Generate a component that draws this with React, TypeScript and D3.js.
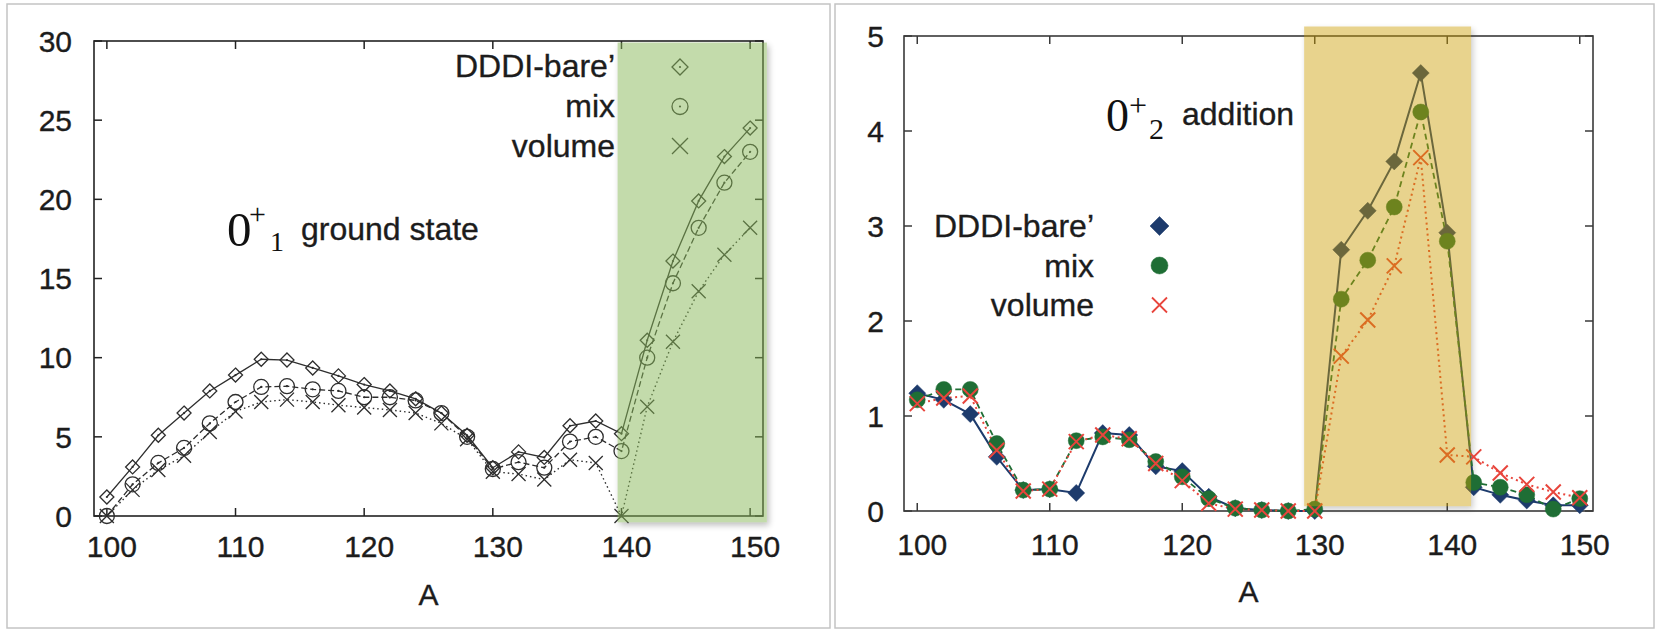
import React from "react";
import * as d3 from "d3";

const massA = [100,102,104,106,108,110,112,114,116,118,120,122,124,126,128,130,132,134,136,138,140,142,144,146,148,150];

// left panel: 0+1 ground state
const gsDDDI = [1.2,3.1,5.1,6.5,7.9,8.9,9.9,9.85,9.35,8.85,8.3,7.9,7.4,6.5,5.1,3.05,4.05,3.7,5.7,6.0,5.2,11.1,16.1,19.9,22.7,24.5];
const gsMix = [0,2.0,3.35,4.3,5.85,7.2,8.15,8.2,8.0,7.9,7.5,7.5,7.3,6.5,5.0,2.97,3.4,3.05,4.7,5.0,4.1,10.0,14.7,18.2,21.05,23.0];
const gsVolume = [0,1.65,2.9,3.8,5.3,6.6,7.2,7.35,7.2,7.0,6.85,6.7,6.5,5.85,4.85,2.8,2.65,2.3,3.55,3.35,0,6.9,11.0,14.2,16.5,18.2];

// right panel: 0+2 addition
const adDDDI = [1.24,1.17,1.02,0.57,0.22,0.23,0.19,0.82,0.8,0.47,0.42,0.15,0.03,0.01,0,0,2.75,3.16,3.68,4.61,2.93,0.25,0.17,0.11,0.06,0.06];
const adMix = [1.17,1.28,1.28,0.71,0.22,0.23,0.74,0.78,0.75,0.52,0.36,0.13,0.03,0.01,0,0.02,2.23,2.64,3.2,4.2,2.84,0.3,0.25,0.17,0.02,0.13];
const adVolume = [1.13,1.19,1.21,0.64,0.21,0.23,0.73,0.8,0.76,0.5,0.32,0.08,0.02,0.01,0,0,1.63,2.01,2.58,3.72,0.59,0.57,0.4,0.28,0.2,0.14];

const xTicks = [100,110,120,130,140,150];
const leftYTicks = [0,5,10,15,20,25,30];
const rightYTicks = [0,1,2,3,4,5];
const legendNames = ["DDDI-bare\u2019","mix","volume"];

const leftBand = { a0: 139.7, a1: 151.3, v0: -0.4, v1: 29.9 };
const rightBand = { a0: 129.2, a1: 141.8, v0: 0.05, v1: 5.1 };

const SANS = "'Liberation Sans', Arial, Helvetica, sans-serif";
const SERIF = "'Liberation Serif', 'Times New Roman', serif";
const INK = "#1c1c1c";

type Sc = d3.ScaleLinear<number, number>;

function Diamond({ x, y, r, fill, stroke, sw, dot }: any) {
  return (
    <g>
      <path d={`M${x},${y - r}L${x + r},${y}L${x},${y + r}L${x - r},${y}Z`} fill={fill} stroke={stroke} strokeWidth={sw} />
      {dot ? <circle cx={x} cy={y} r={1.1} fill={stroke} /> : null}
    </g>
  );
}
function Circ({ x, y, r, fill, stroke, sw, dot }: any) {
  return (
    <g>
      <circle cx={x} cy={y} r={r} fill={fill} stroke={stroke} strokeWidth={sw} />
      {dot ? <circle cx={x} cy={y} r={1.1} fill={stroke} /> : null}
    </g>
  );
}
function Cross({ x, y, r, stroke, sw }: any) {
  return <path d={`M${x - r},${y - r}L${x + r},${y + r}M${x - r},${y + r}L${x + r},${y - r}`} stroke={stroke} strokeWidth={sw} fill="none" />;
}

function Axes({ x, y, yTicks, color, labelBaseline, aBaseline, yLabelX }: { x: Sc; y: Sc; yTicks: number[]; color: string; labelBaseline: number; aBaseline: number; yLabelX: number }) {
  const [x0, x1] = x.range();
  const [y0, y1] = y.range();
  const tl = 8;
  return (
    <g>
      <rect x={x0} y={y1} width={x1 - x0} height={y0 - y1} fill="none" stroke={color} strokeWidth={1.6} />
      {xTicks.map((t) => (
        <g key={"xt" + t}>
          <line x1={x(t)} x2={x(t)} y1={y0} y2={y0 - tl} stroke={color} strokeWidth={1.5} />
          <line x1={x(t)} x2={x(t)} y1={y1} y2={y1 + tl} stroke={color} strokeWidth={1.5} />
          <text x={x(t) + 5} y={labelBaseline} textAnchor="middle" fontFamily={SANS} fontSize={30} fill={INK} stroke={INK} strokeWidth={0.35}>{t}</text>
        </g>
      ))}
      {yTicks.map((t) => (
        <g key={"yt" + t}>
          <line x1={x0} x2={x0 + tl} y1={y(t)} y2={y(t)} stroke={color} strokeWidth={1.5} />
          <line x1={x1} x2={x1 - tl} y1={y(t)} y2={y(t)} stroke={color} strokeWidth={1.5} />
          <text x={yLabelX} y={y(t)} dy="0.36em" textAnchor="end" fontFamily={SANS} fontSize={30} fill={INK} stroke={INK} strokeWidth={0.35}>{t}</text>
        </g>
      ))}
      <text x={(x0 + x1) / 2} y={aBaseline} textAnchor="middle" fontFamily={SANS} fontSize={30} fill={INK} stroke={INK} strokeWidth={0.35}>A</text>
    </g>
  );
}

export default function App() {
  const xL = d3.scaleLinear().domain([99, 151]).range([94, 763]);
  const yL = d3.scaleLinear().domain([0, 30]).range([516, 41]);
  const xR = d3.scaleLinear().domain([99, 151]).range([904, 1593]);
  const yR = d3.scaleLinear().domain([0, 5]).range([511, 36]);

  const lineL = (vals: number[]) => d3.line<number>().x((_, i) => xL(massA[i])).y((v) => yL(v))(vals) || "";
  const lineR = (vals: number[]) => d3.line<number>().x((_, i) => xR(massA[i])).y((v) => yR(v))(vals) || "";

  const gray = "#2e2e2e";
  const navy = "#1d3b6c";
  const green = "#1f6e35";
  const red = "#e8453c";

  const lbx0 = xL(leftBand.a0), lbx1 = xL(leftBand.a1), lby0 = yL(leftBand.v1), lby1 = yL(leftBand.v0);
  const rbx0 = xR(rightBand.a0), rbx1 = xR(rightBand.a1), rby0 = yR(rightBand.v1), rby1 = yR(rightBand.v0);

  return (
    <svg width={1662} height={630} style={{ position: "absolute", left: 0, top: 0, background: "#fff" }}>
      <defs>
        <filter id="blur" x="-20%" y="-20%" width="140%" height="140%">
          <feGaussianBlur stdDeviation="3" />
        </filter>
        <mask id="mL">
          <rect x={0} y={0} width={1662} height={630} fill="#fff" />
          <rect x={lbx0} y={lby0} width={lbx1 - lbx0} height={lby1 - lby0} fill="#000" />
        </mask>
        <mask id="mR">
          <rect x={0} y={0} width={1662} height={630} fill="#fff" />
          <rect x={rbx0} y={rby0} width={rbx1 - rbx0} height={rby1 - rby0} fill="#000" />
        </mask>
      </defs>
      <rect x={0} y={0} width={1662} height={630} fill="#fff" />
      {/* panel frames */}
      <rect x={7} y={4} width={823} height={624} fill="none" stroke="#c4c4c4" strokeWidth={1.5} />
      <rect x={835} y={4} width={819} height={624} fill="none" stroke="#c4c4c4" strokeWidth={1.5} />

      {/* ---------------- LEFT PANEL ---------------- */}
      <rect x={lbx0 + 2} y={lby0 + 3} width={lbx1 - lbx0} height={lby1 - lby0} fill="#000" opacity={0.25} filter="url(#blur)" mask="url(#mL)" />
      <Axes x={xL} y={yL} yTicks={leftYTicks} color="#222" labelBaseline={557} aBaseline={605} yLabelX={72} />
      <path d={lineL(gsDDDI)} fill="none" stroke={gray} strokeWidth={1.3} />
      <path d={lineL(gsMix)} fill="none" stroke={gray} strokeWidth={1.3} strokeDasharray="6,3" />
      <path d={lineL(gsVolume)} fill="none" stroke={gray} strokeWidth={1.4} strokeDasharray="1.5,3" />
      {gsDDDI.map((v, i) => <Diamond key={"ld" + i} x={xL(massA[i])} y={yL(v)} r={7} fill="none" stroke={gray} sw={1.3} dot />)}
      {gsMix.map((v, i) => <Circ key={"lc" + i} x={xL(massA[i])} y={yL(v)} r={7.5} fill="none" stroke={gray} sw={1.3} dot />)}
      {gsVolume.map((v, i) => <Cross key={"lx" + i} x={xL(massA[i])} y={yL(v)} r={7} stroke={gray} sw={1.3} />)}
      {/* legend */}
      {legendNames.map((n, i) => (
        <text key={"lleg" + i} x={615} y={77 + i * 40} textAnchor="end" fontFamily={SANS} fontSize={32} fill={INK} stroke={INK} strokeWidth={0.35}>{n}</text>
      ))}
      <Diamond x={680} y={67} r={8} fill="none" stroke={gray} sw={1.3} dot />
      <Circ x={680} y={106.5} r={8} fill="none" stroke={gray} sw={1.3} dot />
      <Cross x={680} y={146} r={8} stroke={gray} sw={1.3} />
      {/* band overlay */}
      <rect x={lbx0} y={lby0} width={lbx1 - lbx0} height={lby1 - lby0} fill="rgb(135,183,88)" opacity={0.5} />
      {/* annotation */}
      <text x={227} y={246} fontFamily={SERIF} fontSize={49} fill="#111">0</text>
      <text x={249} y={224} fontFamily={SERIF} fontSize={30} fill="#111">+</text>
      <text x={270} y={251} fontFamily={SERIF} fontSize={28} fill="#111">1</text>
      <text x={301} y={240} fontFamily={SANS} fontSize={32} fill={INK} stroke={INK} strokeWidth={0.35}>ground state</text>

      {/* ---------------- RIGHT PANEL ---------------- */}
      <rect x={rbx0 + 2} y={rby0 + 3} width={rbx1 - rbx0} height={rby1 - rby0} fill="#000" opacity={0.2} filter="url(#blur)" mask="url(#mR)" />
      <Axes x={xR} y={yR} yTicks={rightYTicks} color="#3a3a3a" labelBaseline={555} aBaseline={602} yLabelX={884} />
      <path d={lineR(adDDDI)} fill="none" stroke={navy} strokeWidth={2} />
      <path d={lineR(adMix)} fill="none" stroke={green} strokeWidth={1.8} strokeDasharray="6,4" />
      <path d={lineR(adVolume)} fill="none" stroke={red} strokeWidth={2} strokeDasharray="2,3.5" />
      {adDDDI.map((v, i) => <Diamond key={"rd" + i} x={xR(massA[i])} y={yR(v)} r={8.5} fill={navy} stroke={navy} sw={0.5} />)}
      {adMix.map((v, i) => <Circ key={"rc" + i} x={xR(massA[i])} y={yR(v)} r={8} fill={green} stroke={green} sw={0.5} />)}
      {adVolume.map((v, i) => <Cross key={"rx" + i} x={xR(massA[i])} y={yR(v)} r={7.5} stroke={red} sw={2} />)}
      {legendNames.map((n, i) => (
        <text key={"rleg" + i} x={1094} y={237 + i * 39.5} textAnchor="end" fontFamily={SANS} fontSize={32} fill={INK} stroke={INK} strokeWidth={0.35}>{n}</text>
      ))}
      <Diamond x={1159.5} y={226} r={9.5} fill={navy} stroke={navy} sw={0.5} />
      <Circ x={1159.5} y={265.5} r={8.5} fill={green} stroke={green} sw={0.5} />
      <Cross x={1159.5} y={305} r={7.5} stroke={red} sw={1.8} />
      <rect x={rbx0} y={rby0} width={rbx1 - rbx0} height={rby1 - rby0} fill="rgb(204,158,2)" opacity={0.45} />
      <text x={1106} y={131} fontFamily={SERIF} fontSize={46} fill="#111">0</text>
      <text x={1129} y={116} fontFamily={SERIF} fontSize={32} fill="#111">+</text>
      <text x={1149} y={139} fontFamily={SERIF} fontSize={30} fill="#111">2</text>
      <text x={1182} y={125} fontFamily={SANS} fontSize={32} fill={INK} stroke={INK} strokeWidth={0.35}>addition</text>
    </svg>
  );
}
